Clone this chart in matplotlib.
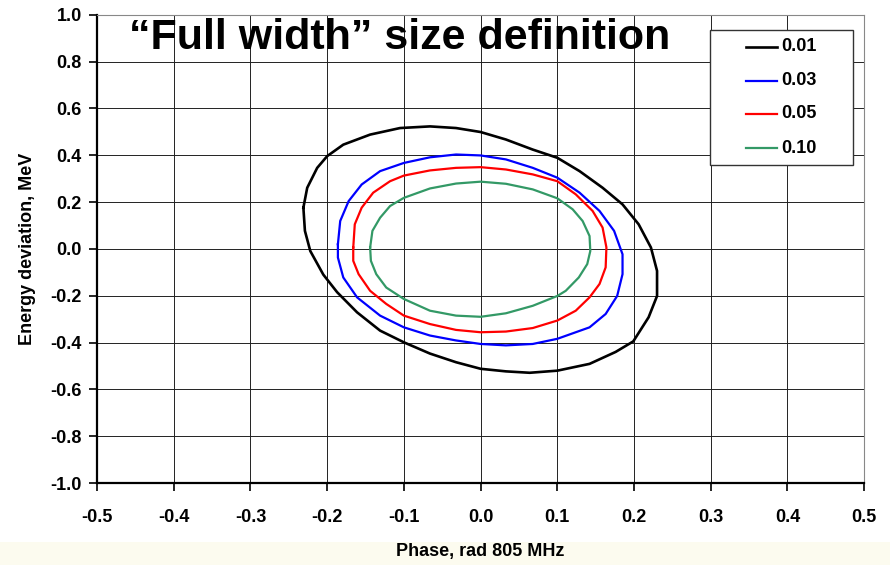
import matplotlib.pyplot as plt
from matplotlib.patches import Rectangle

plt.rcParams['font.family'] = ['Liberation Sans', 'DejaVu Sans']
plt.rcParams['font.weight'] = 'bold'

# contour levels
levels = ['0.01', '0.03', '0.05', '0.10']
colors = ['#000000', '#0000ff', '#ff0000', '#339966']

# contour traces: phase (rad) and energy deviation (MeV)
phase_001 = [-0.231, -0.226, -0.213, -0.200, -0.179, -0.144, -0.105, -0.066, -0.032, 0.000,
             0.033, 0.068, 0.100, 0.129, 0.159, 0.185, 0.206, 0.222, 0.230, 0.230,
             0.219, 0.199, 0.176, 0.142, 0.100, 0.064, 0.033, 0.000, -0.032, -0.066,
             -0.100, -0.131, -0.161, -0.187, -0.205, -0.222, -0.229]
energy_001 = [0.176, 0.261, 0.346, 0.396, 0.445, 0.488, 0.516, 0.523, 0.516, 0.499,
              0.467, 0.424, 0.389, 0.332, 0.261, 0.190, 0.105, 0.006, -0.094, -0.201,
              -0.292, -0.395, -0.440, -0.491, -0.520, -0.529, -0.523, -0.512, -0.484, -0.447,
              -0.399, -0.349, -0.271, -0.185, -0.110, -0.009, 0.077]

phase_003 = [-0.186, -0.183, -0.172, -0.155, -0.131, -0.100, -0.066, -0.032, 0.000, 0.033,
             0.068, 0.100, 0.129, 0.155, 0.174, 0.185, 0.185, 0.178, 0.163, 0.142,
             0.100, 0.068, 0.033, 0.000, -0.032, -0.066, -0.100, -0.131, -0.161, -0.179,
             -0.186]
energy_003 = [0.020, 0.119, 0.204, 0.275, 0.332, 0.367, 0.391, 0.403, 0.399, 0.382,
              0.346, 0.304, 0.240, 0.162, 0.077, -0.023, -0.108, -0.201, -0.278, -0.335,
              -0.384, -0.406, -0.412, -0.406, -0.391, -0.370, -0.335, -0.285, -0.207, -0.122,
              -0.037]

phase_005 = [-0.166, -0.164, -0.155, -0.140, -0.118, -0.100, -0.066, -0.032, 0.000, 0.033,
             0.068, 0.100, 0.124, 0.146, 0.159, 0.164, 0.163, 0.155, 0.142, 0.124,
             0.100, 0.068, 0.033, 0.000, -0.032, -0.066, -0.100, -0.123, -0.144, -0.159,
             -0.166]
energy_005 = [0.006, 0.105, 0.176, 0.240, 0.289, 0.313, 0.335, 0.346, 0.349, 0.339,
              0.318, 0.289, 0.233, 0.162, 0.091, 0.006, -0.079, -0.150, -0.207, -0.264,
              -0.306, -0.338, -0.353, -0.356, -0.346, -0.321, -0.285, -0.235, -0.179, -0.108,
              -0.051]

phase_010 = [-0.144, -0.141, -0.131, -0.118, -0.100, -0.066, -0.032, 0.000, 0.033, 0.068,
             0.100, 0.120, 0.133, 0.142, 0.143, 0.139, 0.128, 0.111, 0.100, 0.068,
             0.033, 0.000, -0.032, -0.066, -0.100, -0.123, -0.136, -0.143]
energy_010 = [0.006, 0.077, 0.133, 0.183, 0.218, 0.258, 0.279, 0.287, 0.278, 0.254,
              0.216, 0.169, 0.119, 0.055, -0.009, -0.065, -0.122, -0.179, -0.201, -0.243,
              -0.275, -0.290, -0.285, -0.264, -0.214, -0.165, -0.108, -0.051]

phases = [phase_001, phase_003, phase_005, phase_010]
energies = [energy_001, energy_003, energy_005, energy_010]

x_ticks = [-0.5, -0.4, -0.3, -0.2, -0.1, 0.0, 0.1, 0.2, 0.3, 0.4, 0.5]
y_ticks = [-1.0, -0.8, -0.6, -0.4, -0.2, 0.0, 0.2, 0.4, 0.6, 0.8, 1.0]

fig = plt.figure(figsize=(8.9, 5.65), dpi=100)
fig.patches.append(Rectangle((0, 0), 1, 0.04, transform=fig.transFigure,
                             facecolor='#fcfbef', edgecolor='none', zorder=-1))
ax = fig.add_axes([0.109, 0.145, 0.862, 0.829])

for x, y, c, lab in zip(phases, energies, colors, levels):
    ax.plot(x + x[:1], y + y[:1], color=c, lw=1.9 if lab == '0.01' else 1.6)

ax.set_xlim(-0.5, 0.5)
ax.set_ylim(-1.0, 1.0)
ax.set_xticks(x_ticks)
ax.set_yticks(y_ticks)
ax.set_xticklabels(['%.1f' % v for v in x_ticks])
ax.set_yticklabels(['%.1f' % v for v in y_ticks])
ax.grid(True, color='#222222', lw=0.7)
ax.set_axisbelow(True)

for side in ['top', 'right']:
    ax.spines[side].set_color('#888888')
    ax.spines[side].set_linewidth(0.8)
for side in ['left', 'bottom']:
    ax.spines[side].set_linewidth(1.6)

ax.tick_params(axis='x', direction='out', length=6, width=1.2, pad=13, labelsize=13)
ax.tick_params(axis='y', direction='out', length=6, width=1.2, pad=5, labelsize=13)

ax.set_xlabel('Phase, rad 805 MHz', fontsize=13, fontweight='bold', labelpad=12)
ax.set_ylabel('Energy deviation, MeV', fontsize=13, fontweight='bold', labelpad=10)

ax.text(-0.105, 0.9, '\u201cFull width\u201d size definition', fontsize=31,
        fontweight='bold', ha='center', va='center')

# legend box drawn by hand so the side padding can be wider than the top
ax.add_patch(Rectangle((0.799, 0.679), 0.187, 0.289, transform=ax.transAxes,
                       facecolor='white', edgecolor='#333333', lw=1.0, zorder=5))
rows = [0.932, 0.859, 0.788, 0.715]
for r, c, lab in zip(rows, colors, levels):
    ax.plot([0.846, 0.887], [r, r], color=c, lw=1.9 if lab == '0.01' else 1.6,
            transform=ax.transAxes, zorder=6)
    ax.text(0.892, r, lab, transform=ax.transAxes, fontsize=13, fontweight='bold',
            ha='left', va='center', zorder=6)

fig.savefig('out.png', dpi=100)
